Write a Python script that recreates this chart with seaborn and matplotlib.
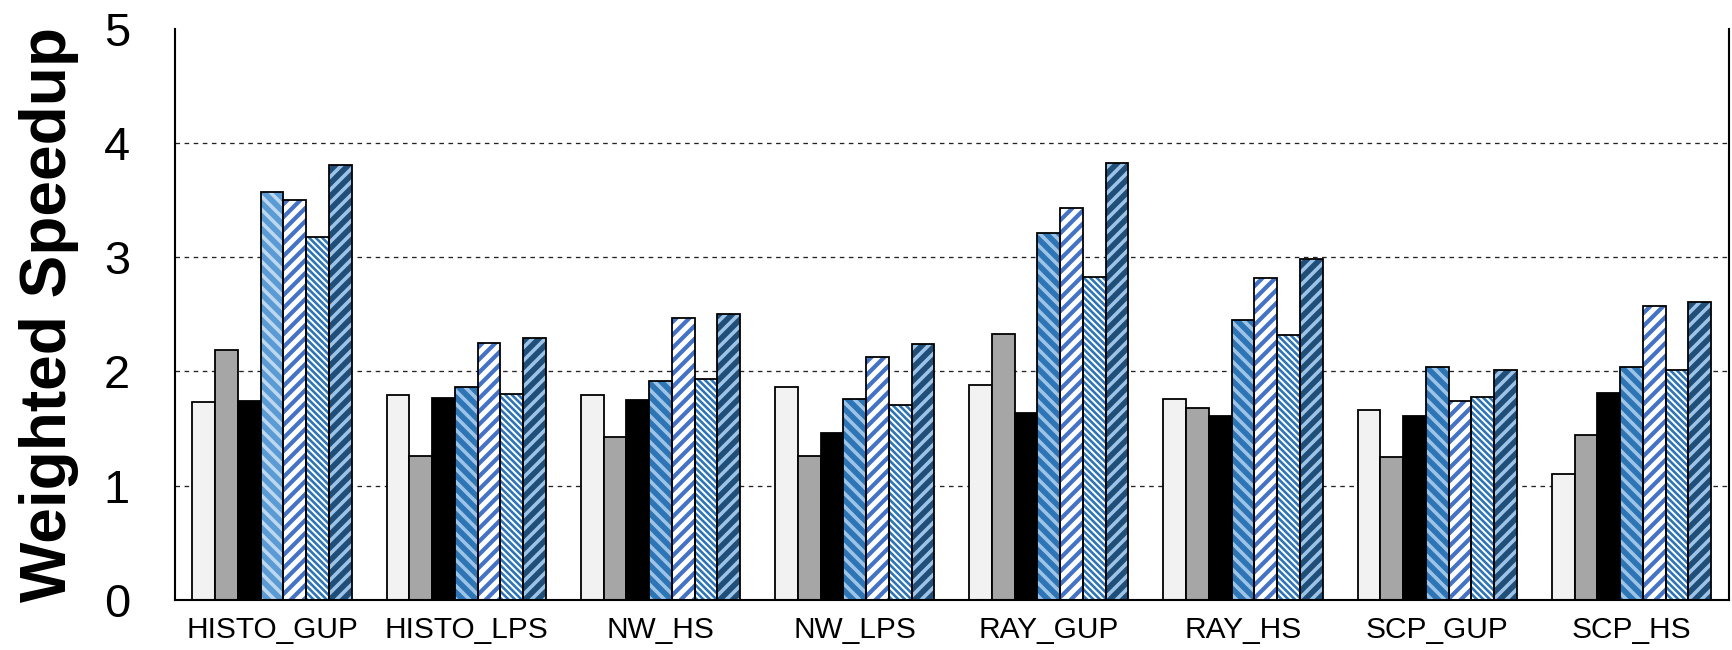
import matplotlib
matplotlib.use('Agg')
import matplotlib.pyplot as plt
import numpy as np
import pandas as pd
import seaborn as sns

benchmarks = ['HISTO_GUP', 'HISTO_LPS', 'NW_HS', 'NW_LPS',
              'RAY_GUP', 'RAY_HS', 'SCP_GUP', 'SCP_HS']
configs = ['C1', 'C2', 'C3', 'C4', 'C5', 'C6', 'C7']

c1 = [1.73, 1.79, 1.79, 1.86, 1.88, 1.76, 1.66, 1.10]
c2 = [2.19, 1.26, 1.43, 1.26, 2.33, 1.68, 1.25, 1.44]
c3 = [1.74, 1.77, 1.75, 1.46, 1.64, 1.61, 1.61, 1.81]
c4 = [3.57, 1.86, 1.92, 1.76, 3.21, 2.45, 2.04, 2.04]
c5 = [3.50, 2.25, 2.47, 2.13, 3.43, 2.82, 1.74, 2.57]
c6 = [3.18, 1.80, 1.93, 1.71, 2.83, 2.32, 1.78, 2.01]
c7 = [3.81, 2.29, 2.50, 2.24, 3.82, 2.98, 2.01, 2.61]

yticks = [0, 1, 2, 3, 4, 5]

# hatch cells are one inch wide in pixels, so a low dpi gives the
# tighter stripes of the original; sizes below are given in pixels
DPI = 78


def pt(px):
    return px * 72.0 / DPI


# face colour, hatch, hatch colour, hatch linewidth (px)
styles = [
    ('#F2F2F2', '', None, 0),
    ('#A6A6A6', '', None, 0),
    ('#000000', '', None, 0),
    ('#2E75B6', '\\\\', '#9DC3E6', 3.6),
    ('#4472C4', '//', '#FFFFFF', 5.0),
    ('#FFFFFF', '\\\\\\\\', '#2E75B6', 2.6),
    ('#1F4E79', '//', '#9DC3E6', 3.6),
]
# the first C4 bar is drawn in the lighter blue
overrides = {(3, 0): ('#5B9BD5', '#BDD7EE')}

rows = []
for cfg, vals in zip(configs, [c1, c2, c3, c4, c5, c6, c7]):
    for b, v in zip(benchmarks, vals):
        rows.append({'bench': b, 'config': cfg, 'speedup': v})
df = pd.DataFrame(rows)

sns.set_style('white')
plt.rcParams['font.family'] = ['Liberation Sans', 'DejaVu Sans']
plt.rcParams['text.color'] = 'black'
plt.rcParams['axes.labelcolor'] = 'black'
plt.rcParams['xtick.color'] = 'black'
plt.rcParams['ytick.color'] = 'black'

fig = plt.figure(figsize=(1732 / DPI, 650 / DPI), dpi=DPI)
ax = fig.add_axes([0.101, 0.077, 0.897, 0.879])

pal = [s[0] for s in styles]
sns.barplot(data=df, x='bench', y='speedup', hue='config', order=benchmarks,
            hue_order=configs, palette=pal, saturation=1, width=0.82,
            legend=False, errorbar=None, ax=ax, zorder=2)

containers = list(ax.containers)
for i, cont in enumerate(containers):
    face, hatch, hcol, hlw = styles[i]
    for j, p in enumerate(cont.patches):
        fc, hc = face, hcol
        if (i, j) in overrides:
            fc, hc = overrides[(i, j)]
        p.set_facecolor(fc)
        if hatch:
            p.set_hatch(hatch)
            p.set_edgecolor(hc)
            p.set_linewidth(0)
            p.set_hatch_linewidth(pt(hlw))
        else:
            p.set_edgecolor('black')
            p.set_linewidth(pt(1.8))
    # black outline on top of the hatched bars
    if hatch:
        ax.bar([p.get_x() for p in cont.patches],
               [p.get_height() for p in cont.patches],
               width=[p.get_width() for p in cont.patches], align='edge',
               fill=False, edgecolor='black', linewidth=pt(1.8), zorder=3)

ax.set_ylim(0, 5)
ax.set_xlim(-0.5, len(benchmarks) - 0.5)
ax.set_yticks(yticks)
for y in yticks[1:-1]:
    ax.axhline(y, color='#222222', linestyle=(0, (3.5, 3.5)), linewidth=pt(1.3), zorder=0)

ax.set_xticks(range(len(benchmarks)))
ax.set_xticklabels(benchmarks, fontsize=pt(29.9))
ax.set_xticks(np.arange(-0.5, len(benchmarks)), minor=True)
ax.tick_params(axis='x', which='major', length=0, pad=pt(16))
ax.tick_params(axis='x', which='minor', length=pt(9.5), width=pt(2.1),
               direction='out', color='black')
ax.tick_params(axis='y', which='major', length=pt(15), width=pt(2.1), direction='out',
               color='black', labelsize=pt(47), pad=pt(30))

for side in ['left', 'bottom', 'right']:
    ax.spines[side].set_visible(True)
    ax.spines[side].set_color('black')
    ax.spines[side].set_linewidth(pt(2.1))
ax.spines['top'].set_visible(False)

ax.set_xlabel('')
ax.set_ylabel('Weighted Speedup', fontsize=pt(64), fontweight='bold')
ax.yaxis.set_label_coords(-0.062, 0.5)

fig.savefig('out.png', dpi=DPI)
